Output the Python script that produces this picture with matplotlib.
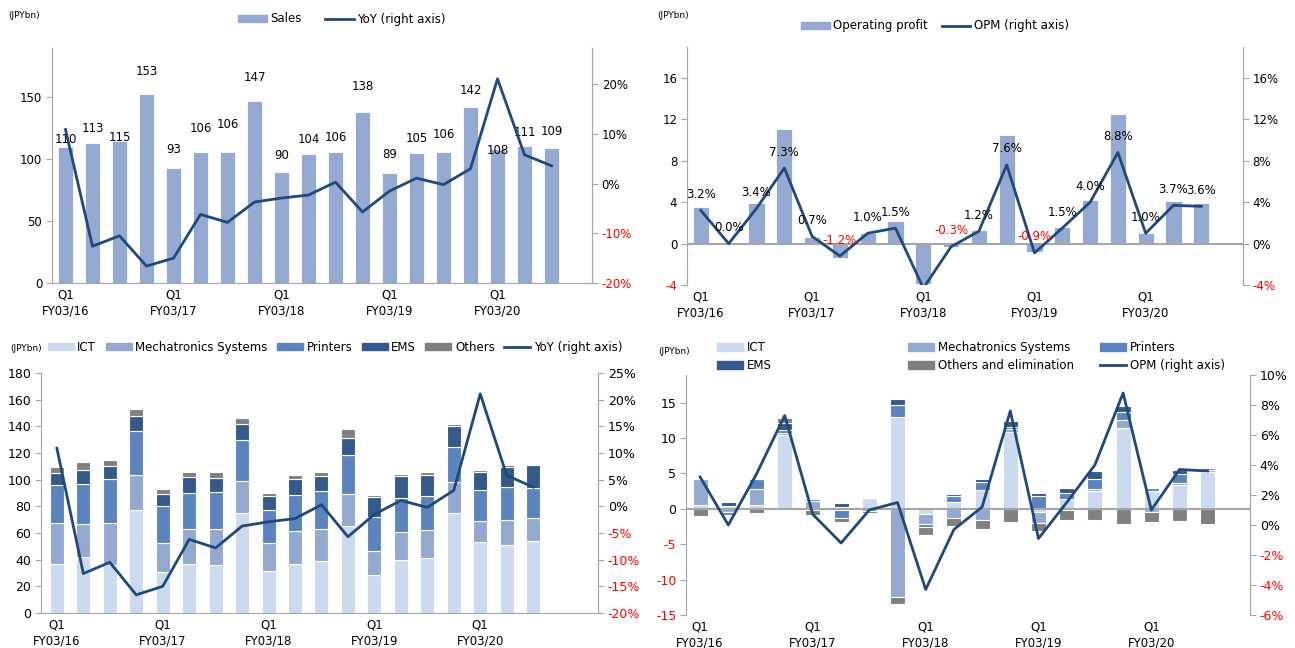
import matplotlib
matplotlib.use('Agg')
import matplotlib.pyplot as plt
from matplotlib.patches import Patch
from matplotlib.lines import Line2D

plt.rcParams['font.family'] = ['DejaVu Sans']

# quarters Q1 FY03/16 .. Q3 FY03/20
quarters = list(range(19))
tick_pos = [0, 4, 8, 12, 16]
tick_labels = ['Q1\nFY03/16', 'Q1\nFY03/17', 'Q1\nFY03/18', 'Q1\nFY03/19', 'Q1\nFY03/20']

sales = [110, 113, 115, 153, 93, 106, 106, 147, 90, 104, 106, 138, 89, 105, 106, 142, 108, 111, 109]
sales_yoy = [10.9, -12.6, -10.5, -16.6, -15.0, -6.2, -7.8, -3.7, -2.9, -2.3, 0.3, -5.7,
             -1.5, 1.1, -0.2, 3.0, 21.1, 5.8, 3.6]
# label heights above bar tops (pixels), the labels were moved by hand in the original
sales_label_dy = [7, 15, 3, 22, 18, 23, 27, 24, 16, 15, 14, 26, 18, 15, 17, 17, -1, 13, 17]

op = [3.55, 0.0, 3.9, 11.1, 0.65, -1.35, 1.05, 2.2, -3.9, -0.3, 1.3, 10.5, -0.85, 1.6,
      4.2, 12.5, 1.05, 4.1, 3.95]
opm = [3.2, 0.0, 3.4, 7.3, 0.7, -1.2, 1.0, 1.5, -4.3, -0.3, 1.2, 7.6, -0.9, 1.5, 4.0,
       8.8, 1.0, 3.7, 3.6]
opm_hidden = [8]  # no label in the original

# sales by segment
ict_sales = [37, 42, 36, 77, 30.5, 36.75, 36.25, 74.75, 31.5, 37, 39, 65.25, 28.75, 39.5,
             41, 75.25, 53, 50.75, 54]
mecha_sales = [30.75, 24.75, 31.75, 26.25, 22, 26.25, 27, 24.5, 21, 24.25, 24, 24.25, 17.5,
               21, 21, 23.25, 16.25, 19.25, 17.5]
printers_sales = [28.5, 30.25, 32.75, 33, 27.5, 27.25, 27.75, 30.5, 25, 27.5, 28.5, 28.75,
                  25.75, 26, 26, 26, 23.25, 24.5, 22.5]
ems_sales = [8.75, 10.5, 9.5, 11.75, 9.5, 11.5, 10, 12, 10, 11.5, 11.5, 13.25, 15.25, 16,
             15.75, 15.75, 13.5, 15, 16.75]
others_sales = [4.5, 5.5, 5, 4.75, 3.5, 4.25, 5, 4.75, 2.75, 3, 3, 6.5, 1.5, 2, 2, 1.75,
                1.5, 1.25, 1.25]

# operating profit by segment
ict_op = [0.6, 0.4, 0.5, 10.4, -0.2, 0.3, 1.5, 13.0, -0.8, 0.9, 2.6, 10.8, -0.45, 1.4,
          2.45, 11.4, 2.55, 3.3, 5.2]
mecha_op = [3.6, -0.4, 2.3, 0.3, 1.1, -0.1, -0.35, -12.5, -1.4, -1.3, -1.55, 0.45, -1.5,
            -0.1, 0.3, 1.2, -0.5, 0.35, 0.35]
printers_op = [0.2, -0.5, 1.4, 0.5, 0.25, -1.15, 0.1, 1.6, -0.3, 0.85, 1.2, 0.3, 1.8, 0.85,
               1.45, 1.05, 0.35, 1.3, 0.2]
ems_op = [0.05, 0.5, 0.2, 0.9, 0.05, 0.45, 0.2, 0.85, 0.0, 0.35, 0.4, 0.8, 0.45, 0.75,
          1.2, 0.85, 0.1, 0.6, 0.1]
others_op = [-1.0, -0.05, -0.66, 0.75, -0.7, -0.6, -0.3, -0.95, -1.2, -1.1, -1.35, -1.9,
             -1.2, -1.5, -1.55, -2.15, -1.3, -1.7, -2.1]

BAR = '#95AAD2'
LINE = '#1F497D'
SEG_COLORS = ['#CBDAEE', '#94A9D0', '#5B84BE', '#34598A', '#808080']
GREY = '#A6A6A6'
FS = 8.5

fig = plt.figure(figsize=(12.95, 6.48), dpi=100)
W, H = 1295, 648


def make_axes(left, right, top, bottom):
    return fig.add_axes([left / W, 1 - bottom / H, (right - left) / W, (bottom - top) / H])


def style(ax, ax2, ylim, yticks, ylim2, yticks2, xlim, zero_line=False):
    ax.set_xlim(*xlim)
    ax.set_ylim(*ylim)
    ax2.set_ylim(*ylim2)
    ax.set_yticks(yticks)
    ax.set_yticklabels([f'{v:g}' for v in yticks])
    for lab, v in zip(ax.get_yticklabels(), yticks):
        lab.set_color('red' if v < 0 else 'black')
    ax2.set_yticks(yticks2)
    ax2.set_yticklabels([f'{v:g}%' for v in yticks2])
    for lab, v in zip(ax2.get_yticklabels(), yticks2):
        lab.set_color('red' if v < 0 else 'black')
    ax.set_xticks(tick_pos)
    ax.set_xticklabels(tick_labels, fontsize=FS, linespacing=1.3)
    ax.tick_params(axis='x', length=0, pad=4)
    ax.tick_params(axis='y', labelsize=FS, length=4, color=GREY, pad=3)
    ax2.tick_params(axis='y', labelsize=FS, length=4, color=GREY, pad=3)
    for a in (ax, ax2):
        a.spines['top'].set_visible(False)
        a.spines['left'].set_color(GREY)
        a.spines['right'].set_color(GREY)
        a.spines['bottom'].set_color(GREY)
        a.set_facecolor('none')
    ax2.spines['left'].set_visible(False)
    ax2.spines['bottom'].set_visible(False)
    if zero_line:
        ax.spines['bottom'].set_visible(False)
        ax.axhline(0, color=GREY, lw=1.5, zorder=3)
    ax.set_zorder(1)
    ax2.set_zorder(2)


# ---------------- top left: sales ----------------
ax = make_axes(52, 592, 48, 283)
ax2 = ax.twinx()
ax.bar(quarters, sales, width=0.55, color=BAR, edgecolor='white', linewidth=0.6)
ax2.plot(quarters, sales_yoy, color=LINE, lw=2)
style(ax, ax2, (0, 190), [0, 50, 100, 150], (-20, 27.3), [-20, -10, 0, 10, 20], (-0.5, 19.5))
for x, v, dy in zip(quarters, sales, sales_label_dy):
    ax.annotate(f'{v}', (x, v), xytext=(0, dy), textcoords='offset pixels',
                ha='center', va='center', fontsize=FS, zorder=5)
fig.text(8 / W, 1 - 16 / H, '(JPYbn)', fontsize=6.5, va='center')
fig.legend([Patch(color=BAR), Line2D([], [], color=LINE, lw=2)], ['Sales', 'YoY (right axis)'],
           loc='center', bbox_to_anchor=(342 / W, 1 - 19 / H), ncol=2, frameon=False,
           fontsize=FS, handlelength=2.4, handleheight=0.6, handletextpad=0.3, columnspacing=2.0)

# ---------------- top right: operating profit ----------------
ax = make_axes(687, 1243, 47, 285)
ax2 = ax.twinx()
ax.bar(quarters, op, width=0.58, color=BAR, edgecolor='white', linewidth=0.6)
ax2.plot(quarters, opm, color=LINE, lw=2)
style(ax, ax2, (-4, 19), [-4, 0, 4, 8, 12, 16], (-4, 19), [-4, 0, 4, 8, 12, 16], (-0.5, 19.5),
      zero_line=True)
for i, (x, v) in enumerate(zip(quarters, opm)):
    if i in opm_hidden:
        continue
    ax2.annotate(f'{v:.1f}%', (x, v), xytext=(0, 16), textcoords='offset pixels',
                 ha='center', va='center', fontsize=FS, color='red' if v < 0 else 'black')
fig.text(657 / W, 1 - 16 / H, '(JPYbn)', fontsize=6.5, va='center')
fig.legend([Patch(color=BAR), Line2D([], [], color=LINE, lw=2)],
           ['Operating profit', 'OPM (right axis)'],
           loc='center', bbox_to_anchor=(935 / W, 1 - 26 / H), ncol=2, frameon=False,
           fontsize=FS, handlelength=2.4, handleheight=0.6, handletextpad=0.3, columnspacing=1.2)

# ---------------- bottom left: sales by segment ----------------
ax = make_axes(41, 598, 373, 613)
ax2 = ax.twinx()
seg_sales = [ict_sales, mecha_sales, printers_sales, ems_sales, others_sales]
bottom = [0.0] * len(quarters)
for vals, col in zip(seg_sales, SEG_COLORS):
    ax.bar(quarters, vals, bottom=bottom, width=0.53, color=col, edgecolor='white', linewidth=0.8)
    bottom = [b + v for b, v in zip(bottom, vals)]
ax2.plot(quarters, sales_yoy, color=LINE, lw=2)
style(ax, ax2, (0, 180), list(range(0, 181, 20)), (-20, 25), list(range(-20, 26, 5)),
      (-0.6, 20.45))
ax.tick_params(axis='y', labelsize=9)
ax2.tick_params(axis='y', labelsize=9)
fig.text(10 / W, 1 - 348 / H, '(JPYbn)', fontsize=6.5, va='center')
fig.legend([Patch(color=c) for c in SEG_COLORS] + [Line2D([], [], color=LINE, lw=2)],
           ['ICT', 'Mechatronics Systems', 'Printers', 'EMS', 'Others', 'YoY (right axis)'],
           loc='center', bbox_to_anchor=(335 / W, 1 - 347 / H), ncol=6, frameon=False,
           fontsize=FS, handlelength=2.2, handleheight=0.6, handletextpad=0.3, columnspacing=0.8)

# ---------------- bottom right: operating profit by segment ----------------
ax = make_axes(686, 1250, 375, 615)
ax2 = ax.twinx()
seg_op = [ict_op, mecha_op, printers_op, ems_op, others_op]
pos = [0.0] * len(quarters)
neg = [0.0] * len(quarters)
for vals, col in zip(seg_op, SEG_COLORS):
    bot = [p if v >= 0 else n for v, p, n in zip(vals, pos, neg)]
    ax.bar(quarters, vals, bottom=bot, width=0.53, color=col, edgecolor='white', linewidth=0.8)
    pos = [p + max(v, 0) for p, v in zip(pos, vals)]
    neg = [n + min(v, 0) for n, v in zip(neg, vals)]
ax2.plot(quarters, opm, color=LINE, lw=2)
style(ax, ax2, (-15, 18.9), [-15, -10, -5, 0, 5, 10, 15], (-6, 10), list(range(-6, 11, 2)),
      (-0.5, 19.5), zero_line=True)
ax.tick_params(axis='y', labelsize=9)
ax2.tick_params(axis='y', labelsize=9)
fig.text(658 / W, 1 - 352 / H, '(JPYbn)', fontsize=6.5, va='center')
legend_cols = [
    ([Patch(color=SEG_COLORS[0]), Patch(color=SEG_COLORS[3])], ['ICT', 'EMS'], 717),
    ([Patch(color=SEG_COLORS[1]), Patch(color=SEG_COLORS[4])],
     ['Mechatronics Systems', 'Others and elimination'], 908),
    ([Patch(color=SEG_COLORS[2]), Line2D([], [], color=LINE, lw=2)],
     ['Printers', 'OPM (right axis)'], 1100),
]
for handles, labels, x0 in legend_cols:
    fig.legend(handles, labels, loc='upper left', bbox_to_anchor=(x0 / W, 1 - 341 / H),
               ncol=1, frameon=False, fontsize=FS, handlelength=2.2, handleheight=0.6,
               handletextpad=0.3, labelspacing=0.45, borderpad=0, borderaxespad=0)

fig.savefig('out.png', dpi=100)
